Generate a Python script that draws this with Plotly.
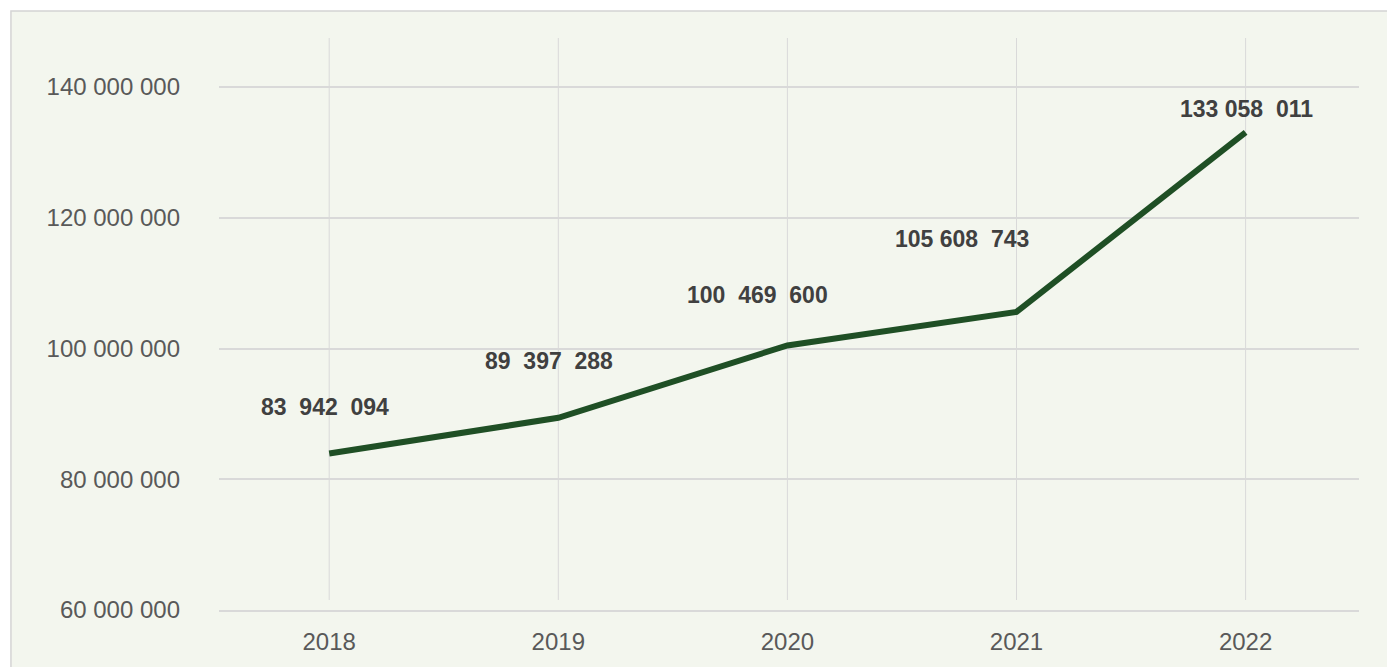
import plotly.graph_objects as go

years = ["2018", "2019", "2020", "2021", "2022"]
values = [83942094, 89397288, 100469600, 105608743, 133058011]
label_texts = ["83\u00a0\u00a0942\u00a0\u00a0094", "89\u00a0\u00a0397\u00a0\u00a0288",
               "100\u00a0\u00a0469\u00a0\u00a0600", "105\u00a0608\u00a0\u00a0743",
               "133\u00a0058\u00a0\u00a0011"]
y_tickvals = [60000000, 80000000, 100000000, 120000000, 140000000]
y_ticktext = ["60 000 000", "80 000 000", "100 000 000", "120 000 000", "140 000 000"]

# label offsets (pixels) relative to each point
label_dx = [-4, -9, -30, -55, 1]
label_dy = [46, 57, 50, 73, 23]

fig = go.Figure()
fig.add_trace(go.Scatter(
    x=years, y=values, mode="lines",
    line=dict(color="#1F4F25", width=6),
    hoverinfo="x+y", showlegend=False,
))

for i, (v, t) in enumerate(zip(values, label_texts)):
    fig.add_annotation(
        x=i, y=v, text="<b>" + t + "</b>", showarrow=False,
        xshift=label_dx[i], yshift=label_dy[i],
        xanchor="center", yanchor="middle",
        font=dict(family="Liberation Sans, Arial, sans-serif", size=23, color="#404040"),
    )

# chart frame
fig.add_shape(type="rect", xref="paper", yref="paper",
              x0=-0.1825, x1=1.06, y0=-0.14, y1=1.0472,
              fillcolor="#F3F6EE", line=dict(color="#D4D4D4", width=1.5), layer="below")

# vertical gridlines
for i in range(len(years)):
    fig.add_shape(type="line", xref="x", yref="paper", x0=i, x1=i,
                  y0=0.0175, y1=1.0, line=dict(color="#D9D9D9", width=1), layer="below")

fig.update_layout(
    width=1395, height=667,
    margin=dict(l=211, r=44, t=30, b=65),
    paper_bgcolor="white", plot_bgcolor="rgba(0,0,0,0)",
    font=dict(family="Liberation Sans, Arial, sans-serif", size=24, color="#595959"),
    showlegend=False,
)
fig.update_xaxes(
    type="category", range=[-0.481, 4.495], showgrid=False, zeroline=False,
    showline=True, linecolor="#D9D9D9", linewidth=1.5, ticks="", ticklabelstandoff=9,
    tickfont=dict(size=24, color="#595959"),
)
fig.update_yaxes(
    range=[60000000, 147500000], tickvals=y_tickvals, ticktext=y_ticktext,
    showgrid=True, gridcolor="#D9D9D9", gridwidth=1.5, zeroline=False,
    showline=False, ticks="", ticklabelstandoff=38,
    tickfont=dict(size=24, color="#595959"),
)

fig.write_html("out.html")
